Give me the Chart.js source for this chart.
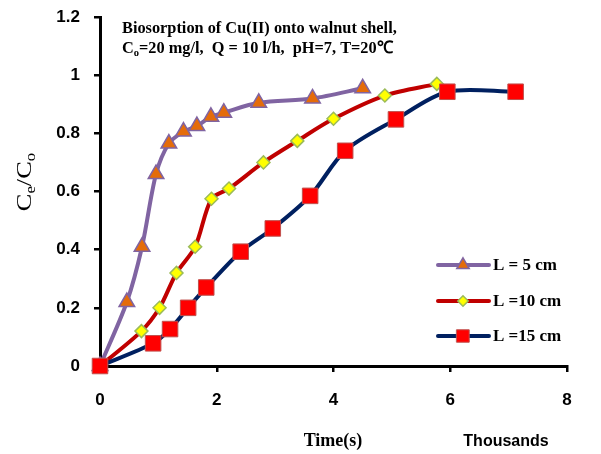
<!DOCTYPE html>
<html><head><meta charset="utf-8">
<script src="https://cdn.jsdelivr.net/npm/chart.js@4.4.0/dist/chart.umd.min.js"></script>
<style>html,body{margin:0;padding:0;background:#fff}#wrap{width:601px;height:454px;position:relative}</style>
</head><body><div id="wrap"><canvas id="c"></canvas></div>
<script>
// ---- data ----
const seriesNames = ['L = 5 cm', 'L =10 cm', 'L =15 cm'];
const time5  = [0, 460, 720, 960, 1180, 1430, 1660, 1900, 2120, 2720, 3640, 4500];
const ce5    = [0, 0.22, 0.41, 0.66, 0.765, 0.806, 0.825, 0.857, 0.871, 0.905, 0.92, 0.955];
const time10 = [0, 710, 1020, 1310, 1630, 1910, 2210, 2800, 3380, 4000, 4880, 5770];
const ce10   = [0, 0.12, 0.20, 0.32, 0.41, 0.575, 0.61, 0.70, 0.774, 0.85, 0.93, 0.97];
const time15 = [0, 910, 1200, 1510, 1820, 2410, 2960, 3600, 4200, 5070, 5950, 7120];
const ce15   = [0, 0.078, 0.127, 0.20, 0.27, 0.393, 0.473, 0.585, 0.74, 0.848, 0.943, 0.943];
const xTickValues = [0, 2000, 4000, 6000, 8000];
const yTickValues = [0, 0.2, 0.4, 0.6, 0.8, 1, 1.2];

const toXY = (xs, ys) => xs.map((x, i) => ({x: x, y: ys[i]}));

const SERIF = '"Liberation Serif", "Times New Roman", serif';
const SANS = '"Liberation Sans", Arial, sans-serif';

const ds = [
  {label: seriesNames[0], data: toXY(time5, ce5), borderColor: '#8064A2', backgroundColor: '#E46C0A',
   pointStyle: 'triangle', pointRadius: 9, pointBorderColor: '#8064A2', pointBackgroundColor: '#E46C0A',
   pointBorderWidth: 1.5, borderWidth: 4, order: 3},
  {label: seriesNames[1], data: toXY(time10, ce10), borderColor: '#C00000', backgroundColor: '#FFFF00',
   pointStyle: 'rectRot', pointRadius: 6.5, pointBorderColor: '#9BBB59', pointBackgroundColor: '#FFFF00',
   pointBorderWidth: 1.5, borderWidth: 4, order: 2},
  {label: seriesNames[2], data: toXY(time15, ce15), borderColor: '#002060', backgroundColor: '#FF0000',
   pointStyle: 'rect', pointRadius: 11, pointBorderColor: '#C0504D', pointBackgroundColor: '#FF0000',
   pointBorderWidth: 1, borderWidth: 4, order: 1}
];
ds.forEach(d => { d.tension = 0.3; d.fill = false; d.clip = false; d.pointHoverRadius = d.pointRadius; });

function drawRich(ctx, parts, x, y, size, font, weight, align) {
  const subSize = Math.round(size * 0.62);
  let total = 0;
  parts.forEach(p => {
    ctx.font = weight + ' ' + (p[1] ? subSize : size) + 'px ' + font;
    total += ctx.measureText(p[0]).width;
  });
  let cx = align === 'center' ? x - total / 2 : x;
  ctx.textBaseline = 'alphabetic';
  ctx.textAlign = 'left';
  parts.forEach(p => {
    ctx.font = weight + ' ' + (p[1] ? subSize : size) + 'px ' + font;
    ctx.fillText(p[0], cx, p[1] ? y + size * 0.18 : y);
    cx += ctx.measureText(p[0]).width;
  });
}

const annot = {
  id: 'annot',
  afterDraw(chart) {
    const ctx = chart.ctx;
    ctx.save();
    ctx.fillStyle = '#000';
    // title
    ctx.save();
    ctx.translate(122, 0);
    ctx.scale(0.96, 1);
    drawRich(ctx, [['Biosorption of Cu(II) onto walnut shell,']], 0, 33, 17, SERIF, 'bold', 'left');
    drawRich(ctx, [['C'], ['o', true], ['=20 mg/l,  Q = 10 l/h,  pH=7, T=20\u2103']], 0, 53, 17, SERIF, 'bold', 'left');
    ctx.restore();
    // y title
    ctx.save();
    ctx.translate(31, 182);
    ctx.rotate(-Math.PI / 2);
    ctx.scale(1.2, 1);
    drawRich(ctx, [['C'], ['e', true], ['/C'], ['o', true]], 0, 0, 22, SERIF, 'normal', 'center');
    ctx.restore();
    // x titles
    ctx.textAlign = 'center';
    ctx.textBaseline = 'alphabetic';
    ctx.font = 'bold 18px ' + SERIF;
    ctx.fillText('Time(s)', 333, 446);
    ctx.font = 'bold 16px ' + SANS;
    ctx.fillText('Thousands', 506, 446);
    // legend
    const rows = [265, 301, 336];
    chart.data.datasets.forEach((d, i) => {
      const y = rows[i];
      ctx.strokeStyle = d.borderColor;
      ctx.lineWidth = 4;
      ctx.lineCap = 'round';
      ctx.beginPath();
      ctx.moveTo(438, y);
      ctx.lineTo(489, y);
      ctx.stroke();
      ctx.fillStyle = d.pointBackgroundColor;
      ctx.strokeStyle = d.pointBorderColor;
      ctx.lineWidth = d.pointBorderWidth;
      Chart.helpers.drawPoint(ctx, {pointStyle: d.pointStyle, radius: d.pointRadius * 0.8, borderWidth: d.pointBorderWidth}, 463, y);
      ctx.fillStyle = '#000';
      ctx.font = 'bold 17px ' + SERIF;
      ctx.textAlign = 'left';
      ctx.textBaseline = 'middle';
      ctx.fillText(d.label, 493, y + 1);
    });
    ctx.restore();
  }
};

new Chart(document.getElementById('c'), {
  type: 'line',
  data: {datasets: ds},
  options: {
    responsive: true,
    maintainAspectRatio: false,
    animation: false,
    layout: {padding: {left: 0, top: 17, right: 34, bottom: 0}},
    plugins: {legend: {display: false}, tooltip: {enabled: false}, title: {display: false}},
    scales: {
      x: {
        type: 'linear', min: 0, max: 8000,
        afterBuildTicks: s => { s.ticks = xTickValues.map(v => ({value: v})); },
        afterFit: s => { s.height = 88; s.paddingLeft = 0; s.paddingRight = 0; },
        ticks: {callback: v => String(v / 1000), color: '#000', font: {family: SANS, size: 17, weight: 'bold'}, padding: 18, maxRotation: 0},
        grid: {display: true, drawOnChartArea: false, drawTicks: true, tickLength: 6, color: '#000', lineWidth: 2.5},
        border: {display: true, color: '#000', width: 3}
      },
      y: {
        type: 'linear', min: 0, max: 1.2,
        afterBuildTicks: s => { s.ticks = yTickValues.map(v => ({value: v})); },
        afterFit: s => { s.width = 100; s.paddingTop = 0; s.paddingBottom = 0; },
        ticks: {callback: v => String(Math.round(v * 10) / 10), color: '#000', font: {family: SANS, size: 17, weight: 'bold'}, padding: 14},
        grid: {display: true, drawOnChartArea: false, drawTicks: true, tickLength: 6, color: '#000', lineWidth: 2.5},
        border: {display: true, color: '#000', width: 3}
      }
    }
  },
  plugins: [annot]
});
</script>
</body></html>
